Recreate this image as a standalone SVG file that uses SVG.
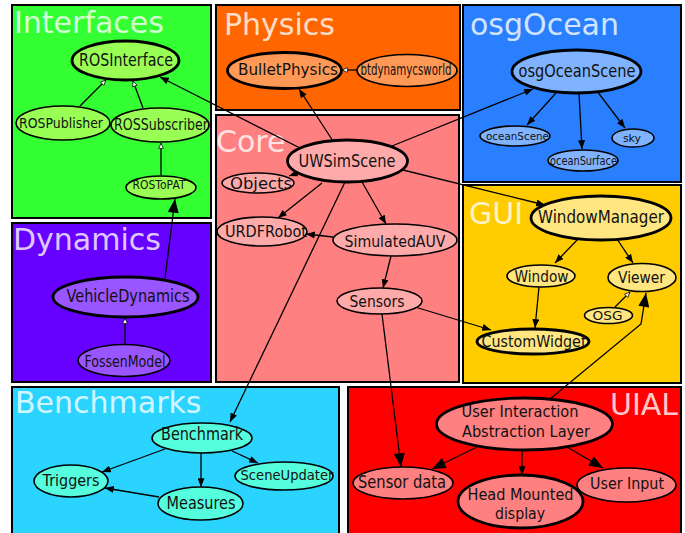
<svg xmlns="http://www.w3.org/2000/svg" width="685" height="533" viewBox="0 0 685 533">
<style>
.p{stroke:#000;stroke-width:2}
.ttl{font-family:"DejaVu Sans",sans-serif;font-size:30px;fill:#fff;fill-opacity:0.8}
.n{stroke:#000;stroke-width:1.6}
.m{stroke:#000;stroke-width:2.8}
.t{font-family:"DejaVu Sans",sans-serif;text-anchor:middle;fill:#111}
.e{fill:none;stroke:#000;stroke-width:1.3}
</style>
<defs>
<marker id="a" viewBox="0 0 10 8" refX="10" refY="4" markerWidth="9" markerHeight="7" orient="auto" markerUnits="userSpaceOnUse"><path d="M0,0 L10,4 L0,8 z" fill="#000"/></marker>
<marker id="b" viewBox="0 0 10 8" refX="10" refY="4" markerWidth="15" markerHeight="11" orient="auto" markerUnits="userSpaceOnUse"><path d="M0,0 L10,4 L0,8 z" fill="#000"/></marker>
<marker id="h" viewBox="0 0 10 10" refX="10" refY="5" markerWidth="6" markerHeight="6" orient="auto" markerUnits="userSpaceOnUse"><path d="M1,1 L9.5,5 L1,9 z" fill="#fff" stroke="#000" stroke-width="1.2"/></marker>
</defs>
<rect width="685" height="533" fill="#fff"/>
<g id="panels">
<rect class="p" x="12" y="5" width="199" height="213" fill="#33ff33"/>
<rect class="p" x="216" y="5" width="244" height="105" fill="#ff6600"/>
<rect class="p" x="463" y="5" width="218" height="177" fill="#2a7fff"/>
<rect class="p" x="216" y="115" width="243" height="267" fill="#ff8080"/>
<rect class="p" x="463" y="185" width="218" height="198" fill="#ffcc00"/>
<rect class="p" x="12" y="223" width="199" height="159" fill="#6600ff"/>
<rect class="p" x="12" y="387" width="327" height="160" fill="#2ad4ff"/>
<rect class="p" x="348" y="387" width="333" height="160" fill="#ff0000"/>
<text class="ttl" x="14" y="33" fill-opacity="0.75">Interfaces</text>
<text class="ttl" x="224" y="35" fill-opacity="0.5">Physics</text>
<text class="ttl" x="470" y="35" fill-opacity="0.85">osgOcean</text>
<text class="ttl" x="216" y="152" fill-opacity="1">Core</text>
<text class="ttl" x="469" y="224" fill-opacity="0.85">GUI</text>
<text class="ttl" x="13" y="250">Dynamics</text>
<text class="ttl" x="15" y="413">Benchmarks</text>
<text class="ttl" x="678" y="415" text-anchor="end" fill-opacity="0.55">UIAL</text>
</g>
<g id="connectors">
<path class="e" d="M300,148 L160,77" marker-end="url(#a)"/>
<path class="e" d="M333,141 L299,89" marker-end="url(#a)"/>
<path class="e" d="M392,146 L533,89" marker-end="url(#a)"/>
<path class="e" d="M403,170 L545,205" marker-end="url(#a)"/>
<path class="e" d="M300,172 L289,176" marker-end="url(#a)"/>
<path class="e" d="M322,183 L278,218" marker-end="url(#a)"/>
<path class="e" d="M362,182 L386,224" marker-end="url(#a)"/>
<path class="e" d="M345,182 L230,422" marker-end="url(#a)"/>
<path class="e" d="M333,237 L306,234" marker-end="url(#a)"/>
<path class="e" d="M391,256 L383,288" marker-end="url(#a)"/>
<path class="e" d="M415,307 L491,330" marker-end="url(#a)"/>
<path class="e" d="M382,314 L401,467" marker-end="url(#b)"/>
<path class="e" d="M556,93 L527,125" marker-end="url(#a)"/>
<path class="e" d="M579,93 L582,149" marker-end="url(#a)"/>
<path class="e" d="M597,91 L625,128" marker-end="url(#a)"/>
<path class="e" d="M357,70 L342,70" marker-end="url(#h)"/>
<path class="e" d="M80,106 L106,80" marker-end="url(#h)"/>
<path class="e" d="M143,108 L133,81" marker-end="url(#h)"/>
<path class="e" d="M161,175 L161,143" marker-end="url(#h)"/>
<path class="e" d="M165,278 L175,199" marker-end="url(#b)"/>
<path class="e" d="M125,344 L125,318" marker-end="url(#h)"/>
<path class="e" d="M578,239 L555,263" marker-end="url(#a)"/>
<path class="e" d="M617,239 L633,263" marker-end="url(#a)"/>
<path class="e" d="M539,287 L535,328" marker-end="url(#a)"/>
<path class="e" d="M615,307 L630,292" marker-end="url(#h)"/>
<path class="e" d="M550,399 L641,324 L646,293" marker-end="url(#b)"/>
<path class="e" d="M165,449 L102,472" marker-end="url(#a)"/>
<path class="e" d="M201,453 L201,487" marker-end="url(#a)"/>
<path class="e" d="M232,451 L258,463" marker-end="url(#a)"/>
<path class="e" d="M159,497 L105,488" marker-end="url(#a)"/>
<path class="e" d="M477,447 L432,469" marker-end="url(#b)"/>
<path class="e" d="M522,450 L522,475" marker-end="url(#a)"/>
<path class="e" d="M567,447 L603,468" marker-end="url(#b)"/>
</g>
<g id="ROSInterface"><ellipse class="m" cx="125.5" cy="60.5" rx="53.5" ry="19.5" fill="#99ff55"/><text class="t" x="126" y="66" font-size="17" textLength="94" lengthAdjust="spacingAndGlyphs">ROSInterface</text></g>
<g id="ROSPublisher"><ellipse class="n" cx="63" cy="123" rx="47" ry="17" fill="#99ff55"/><text class="t" x="61" y="127.5" font-size="14.5" textLength="84" lengthAdjust="spacingAndGlyphs">ROSPublisher</text></g>
<g id="ROSSubscriber"><ellipse class="n" cx="160" cy="125" rx="49" ry="17" fill="#99ff55"/><text class="t" x="161" y="130" font-size="15" textLength="94" lengthAdjust="spacingAndGlyphs">ROSSubscriber</text></g>
<g id="ROSToPAT"><ellipse class="n" cx="161" cy="187.5" rx="35" ry="11.5" fill="#99ff55"/><text class="t" x="159" y="189" font-size="12.5" textLength="53" lengthAdjust="spacingAndGlyphs">ROSToPAT</text></g>
<g id="BulletPhysics"><ellipse class="m" cx="284.5" cy="70.5" rx="57" ry="18" fill="#ff9955"/><text class="t" x="288" y="75" font-size="16" textLength="100" lengthAdjust="spacingAndGlyphs">BulletPhysics</text></g>
<g id="btdynamycsworld"><ellipse class="n" cx="407" cy="70.5" rx="50" ry="16" fill="#ff9955"/><text class="t" x="406" y="75" font-size="15" textLength="91" lengthAdjust="spacingAndGlyphs">btdynamycsworld</text></g>
<g id="osgOceanScene"><ellipse class="m" cx="576.5" cy="71.5" rx="64.5" ry="21.5" fill="#80b3ff"/><text class="t" x="577" y="77" font-size="17" textLength="117" lengthAdjust="spacingAndGlyphs">osgOceanScene</text></g>
<g id="oceanScene"><ellipse class="n" cx="515" cy="136" rx="35" ry="10" fill="#80b3ff"/><text class="t" x="517.5" y="139.5" font-size="11" textLength="63" lengthAdjust="spacingAndGlyphs">oceanScene</text></g>
<g id="oceanSurface"><ellipse class="n" cx="583" cy="160.5" rx="35" ry="10.5" fill="#80b3ff"/><text class="t" x="583.5" y="165" font-size="12" textLength="67" lengthAdjust="spacingAndGlyphs">oceanSurface</text></g>
<g id="sky"><ellipse class="n" cx="633" cy="138" rx="21" ry="9" fill="#80b3ff"/><text class="t" x="632" y="142" font-size="11">sky</text></g>
<g id="UWSimScene"><ellipse class="m" cx="347.5" cy="161" rx="60" ry="21" fill="#ffaaaa"/><text class="t" x="347" y="166.5" font-size="17" textLength="97" lengthAdjust="spacingAndGlyphs">UWSimScene</text></g>
<g id="Objects"><ellipse class="n" cx="258" cy="183" rx="36" ry="10" fill="#ffaaaa"/><text class="t" x="261" y="188.5" font-size="16" textLength="62" lengthAdjust="spacingAndGlyphs">Objects</text></g>
<g id="URDFRobot"><ellipse class="n" cx="262" cy="231.5" rx="45" ry="14.5" fill="#ffaaaa"/><text class="t" x="266" y="236.5" font-size="15" textLength="82" lengthAdjust="spacingAndGlyphs">URDFRobot</text></g>
<g id="SimulatedAUV"><ellipse class="n" cx="395" cy="240" rx="62" ry="16" fill="#ffaaaa"/><text class="t" x="395" y="246.5" font-size="16" textLength="101" lengthAdjust="spacingAndGlyphs">SimulatedAUV</text></g>
<g id="Sensors"><ellipse class="n" cx="379.5" cy="301" rx="42.5" ry="13" fill="#ffaaaa"/><text class="t" x="377" y="307" font-size="15.5" textLength="55" lengthAdjust="spacingAndGlyphs">Sensors</text></g>
<g id="WindowManager"><ellipse class="m" cx="601" cy="218" rx="70" ry="22" fill="#ffe680"/><text class="t" x="601" y="222.5" font-size="17" textLength="126" lengthAdjust="spacingAndGlyphs">WindowManager</text></g>
<g id="Window"><ellipse class="n" cx="541" cy="276" rx="34" ry="11" fill="#ffe680"/><text class="t" x="541.5" y="281.5" font-size="15" textLength="54" lengthAdjust="spacingAndGlyphs">Window</text></g>
<g id="Viewer"><ellipse class="n" cx="642" cy="277.5" rx="34" ry="14" fill="#ffe680"/><text class="t" x="641.5" y="283" font-size="15" textLength="47" lengthAdjust="spacingAndGlyphs">Viewer</text></g>
<g id="OSG"><ellipse class="n" cx="608.5" cy="315.5" rx="24" ry="8" fill="#ffe680"/><text class="t" x="607.5" y="320" font-size="12" textLength="30" lengthAdjust="spacingAndGlyphs">OSG</text></g>
<g id="CustomWidget"><ellipse class="m" cx="533" cy="341.5" rx="56" ry="12.5" fill="#ffe680" stroke-width="2.2"/><text class="t" x="534" y="346.5" font-size="15" textLength="105" lengthAdjust="spacingAndGlyphs">CustomWidget</text></g>
<g id="VehicleDynamics"><ellipse class="m" cx="125.5" cy="297" rx="72.5" ry="20" fill="#9955ff"/><text class="t" x="128" y="301.5" font-size="17" textLength="123" lengthAdjust="spacingAndGlyphs">VehicleDynamics</text></g>
<g id="FossenModel"><ellipse class="n" cx="124" cy="360.5" rx="46" ry="16" fill="#9955ff"/><text class="t" x="125" y="366.5" font-size="16" textLength="81" lengthAdjust="spacingAndGlyphs">FossenModel</text></g>
<g id="Benchmark"><ellipse class="n" cx="202" cy="438" rx="50" ry="15" fill="#55ffdd" stroke-width="2"/><text class="t" x="202" y="440" font-size="17" textLength="82" lengthAdjust="spacingAndGlyphs">Benchmark</text></g>
<g id="Triggers"><ellipse class="n" cx="71" cy="481" rx="37" ry="16" fill="#55ffdd"/><text class="t" x="71" y="486" font-size="16" textLength="57" lengthAdjust="spacingAndGlyphs">Triggers</text></g>
<g id="SceneUpdater"><ellipse class="n" cx="284" cy="476" rx="49" ry="14" fill="#55ffdd"/><text class="t" x="287" y="480" font-size="14" textLength="93" lengthAdjust="spacingAndGlyphs">SceneUpdater</text></g>
<g id="Measures"><ellipse class="n" cx="200.5" cy="503.5" rx="42.5" ry="16.5" fill="#55ffdd"/><text class="t" x="201" y="508.5" font-size="17" textLength="69" lengthAdjust="spacingAndGlyphs">Measures</text></g>
<g id="UIALayer"><ellipse class="m" cx="524.5" cy="424" rx="88" ry="26" fill="#ff8080"/><text class="t" x="520" y="416.5" font-size="16" textLength="117" lengthAdjust="spacingAndGlyphs">User Interaction</text><text class="t" x="526" y="436.5" font-size="16" textLength="128" lengthAdjust="spacingAndGlyphs">Abstraction Layer</text></g>
<g id="SensorData"><ellipse class="n" cx="403" cy="483" rx="50" ry="16" fill="#ff8080" stroke-width="2"/><text class="t" x="402" y="487.5" font-size="17" textLength="88" lengthAdjust="spacingAndGlyphs">Sensor data</text></g>
<g id="HeadMounted"><ellipse class="m" cx="520.5" cy="501.5" rx="62.5" ry="26.5" fill="#ff8080" stroke-width="2.4"/><text class="t" x="520.5" y="500" font-size="16" textLength="106" lengthAdjust="spacingAndGlyphs">Head Mounted</text><text class="t" x="520" y="518.5" font-size="16" textLength="50" lengthAdjust="spacingAndGlyphs">display</text></g>
<g id="UserInput"><ellipse class="n" cx="626.5" cy="485" rx="49.5" ry="17" fill="#ff8080" stroke-width="2"/><text class="t" x="627" y="488.5" font-size="16" textLength="74" lengthAdjust="spacingAndGlyphs">User Input</text></g>
</svg>
